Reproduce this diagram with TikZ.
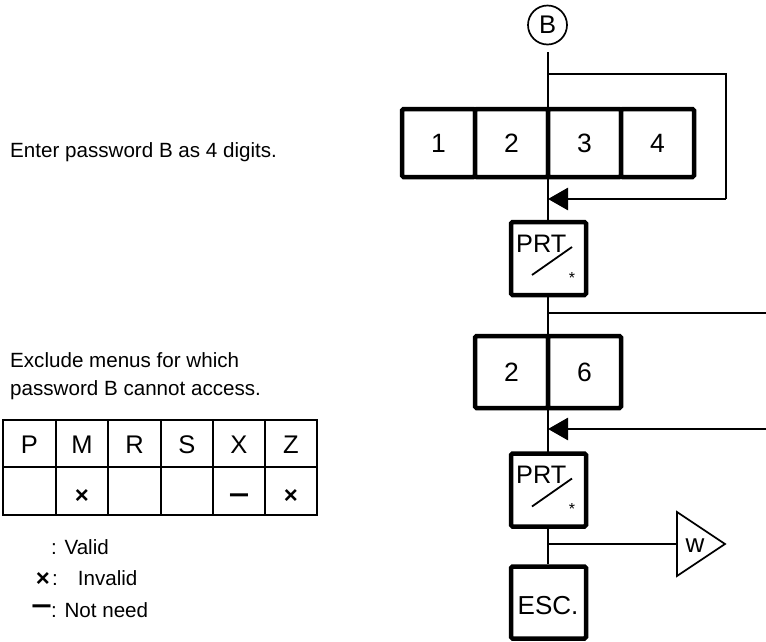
\documentclass[tikz,border=0pt]{standalone}
\usepackage{fontspec}
\setmainfont{Liberation Sans}
\newfontfamily\dashfont{DejaVu Sans}
\usetikzlibrary{arrows.meta}
\begin{document}
\begin{tikzpicture}[x=1pt,y=-1pt,
  flow/.style={line width=2.8pt},
  arr/.style={flow,-{Triangle[length=20pt,width=22pt]}},
  keybox/.style={draw,line width=4.5pt,fill=white,rounded corners=1.5pt,inner sep=0pt,
    minimum width=73pt,minimum height=68pt,font=\fontsize{26.5}{30}\selectfont},
  fnbox/.style={draw,line width=4.5pt,fill=white,rounded corners=1.5pt,inner sep=0pt,
    minimum width=75pt,minimum height=72pt},
  txt/.style={anchor=base west,inner sep=0pt,font=\fontsize{20.6}{24}\selectfont},
  cell/.style={inner sep=0pt,font=\fontsize{25.5}{29}\selectfont},
  symb/.style={inner sep=0pt,font=\fontsize{24}{28}\selectfont\bfseries},
  dsh/.style={anchor=base,inner sep=0pt,font=\fontsize{29}{32}\dashfont},
  keytxt/.style={anchor=base west,inner sep=0pt,font=\fontsize{25.3}{29}\selectfont},
  star/.style={inner sep=0pt,font=\fontsize{16}{18}\selectfont}
]
\useasboundingbox (0,0) rectangle (766,641);

% left texts
\node[txt] (t1) at (10,157) {Enter password B as 4 digits.};
\node[txt] (t2) at (10,367) {Exclude menus for which};
\node[txt] (t3) at (10,395) {password B cannot access.};

% table
\draw[line width=2.2pt] (3,420) rectangle (317,515);
\draw[line width=2.2pt] (3,467) -- (317,467);
\foreach \x in {56,108,161,213,265} \draw[line width=2.2pt] (\x,420) -- (\x,515);
\node[cell] (hP) at (29.5,445) {P};
\node[cell] (hM) at (82,445) {M};
\node[cell] (hR) at (134.5,445) {R};
\node[cell] (hS) at (187,445) {S};
\node[cell] (hX) at (239,445) {X};
\node[cell] (hZ) at (291,445) {Z};
\node[symb] (vM) at (82,496) {×};
\node[dsh] (vX) at (239,501.5) {\scalebox{1}[0.62]{━}};
\node[symb] (vZ) at (291,496) {×};

% legend
\node[txt] (l1) at (51,554) {: Valid};
\node[symb] (l2m) at (43,579) {×};
\node[txt] (l2) at (52,585) {:\hspace{20pt}Invalid};
\node[dsh] (l3m) at (41.5,612) {\scalebox{1}[0.62]{━}};
\node[txt] (l3) at (51,617) {: Not need};

% start circle
\node[draw,circle,line width=1.7pt,minimum size=39pt,inner sep=0pt,
  font=\fontsize{25.5}{29}\selectfont] (B) at (547.5,25) {B};
\coordinate (top) at (548,52);

\coordinate (a1) at (548,74);
\coordinate (c1) at (726,199);
\coordinate (j1) at (548,199);
\coordinate (b1) at (548,313);
\coordinate (e1) at (766,313);
\coordinate (e2) at (766,429);
\coordinate (j2) at (548,429);
\coordinate (w1) at (548,544);

\node[fnbox] (esc) at (548.5,602.5) {};
\draw[flow] (top) -- (esc.north -| top);

% loop around digits
\draw[flow] (a1) -| (c1);
\draw[arr] (c1) -- (j1);
% branch right
\draw[flow] (b1) -- (e1);
\draw[arr] (e2) -- (j2);

% digit boxes
\node[keybox] (k1) at (438.5,143) {1};
\node[keybox] (k2) at (511.5,143) {2};
\node[keybox] (k3) at (584.5,143) {3};
\node[keybox] (k4) at (657.5,143) {4};

\node[keybox,minimum height=72pt] (m2) at (511.5,372) {2};
\node[keybox,minimum height=72pt] (m6) at (584.5,372) {6};

% PRT keys
\node[fnbox,minimum height=73pt] (prt1) at (548.5,258.5) {};
\node[fnbox,minimum height=73pt] (prt2) at (548.5,490) {};
\node[keytxt] (p1t) at (516,252) {PRT};
\node[keytxt] (p2t) at (516,483.5) {PRT};
\draw[line width=1.8pt] ([shift={(-16.5,16.5)}]prt1.center) -- ([shift={(23.5,-11.5)}]prt1.center);
\draw[line width=1.8pt] ([shift={(-16.5,16.5)}]prt2.center) -- ([shift={(23.5,-11.5)}]prt2.center);
\node[star] (s1) at ([shift={(23.5,19)}]prt1.center) {*};
\node[star] (s2) at ([shift={(23.5,19)}]prt2.center) {*};

% ESC label
\node[inner sep=0pt,font=\fontsize{26}{30}\selectfont] (esct) at (548,606) {ESC.};

% W triangle
\coordinate (wl) at (677,544);
\draw[flow] (w1) -- (wl);
\draw[line width=1.7pt,line join=miter] (677,512) -- (725,544) -- (677,576) -- cycle;
\node[inner sep=0pt,font=\fontsize{26}{30}\selectfont] (wt) at (695,546) {w};
\end{tikzpicture}
\end{document}
